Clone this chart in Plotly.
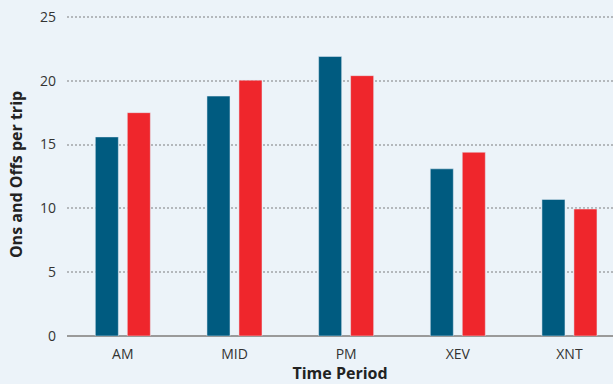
import plotly.graph_objects as go

categories = ["AM", "MID", "PM", "XEV", "XNT"]
series_a = [15.6, 18.8, 21.9, 13.1, 10.7]
series_b = [17.5, 20.05, 20.4, 14.4, 9.95]
y_ticks = [0, 5, 10, 15, 20, 25]

fig = go.Figure()
fig.add_trace(go.Bar(x=categories, y=series_a, marker_color="#005b80", name="Ons"))
fig.add_trace(go.Bar(x=categories, y=series_b, marker_color="#ef262c", name="Offs"))

fig.update_layout(
    width=613, height=384,
    margin=dict(l=67, r=0, t=13, b=48),
    paper_bgcolor="#ecf3f9", plot_bgcolor="#ecf3f9",
    barmode="group", bargap=0.427, bargroupgap=0.28,
    showlegend=False,
    font=dict(family="Open Sans", size=14, color="#333333"),
)
fig.update_xaxes(
    range=[-0.5, 4.39], showgrid=False, ticks="", showline=False,
    title=dict(text="<b>Time Period</b>", font=dict(size=16, color="#222222"), standoff=0),
    tickfont=dict(size=14, color="#333333"), ticklabelstandoff=8,
)
fig.update_yaxes(
    range=[0, 25.31], tickvals=y_ticks, showgrid=True, gridcolor="#b4b8bc",
    griddash="2px,2px", gridwidth=1.5, zeroline=True, zerolinecolor="#9a9a9a", zerolinewidth=1.5,
    title=dict(text="<b>Ons and Offs per trip</b>", font=dict(size=16, color="#222222"), standoff=13),
    tickfont=dict(size=14, color="#333333"), ticks="", ticklabelstandoff=10,
)

fig.write_html(
    "out.html",
    config={"displayModeBar": False},
    post_script="document.body.style.margin='0';document.body.style.background='#ecf3f9';",
)
